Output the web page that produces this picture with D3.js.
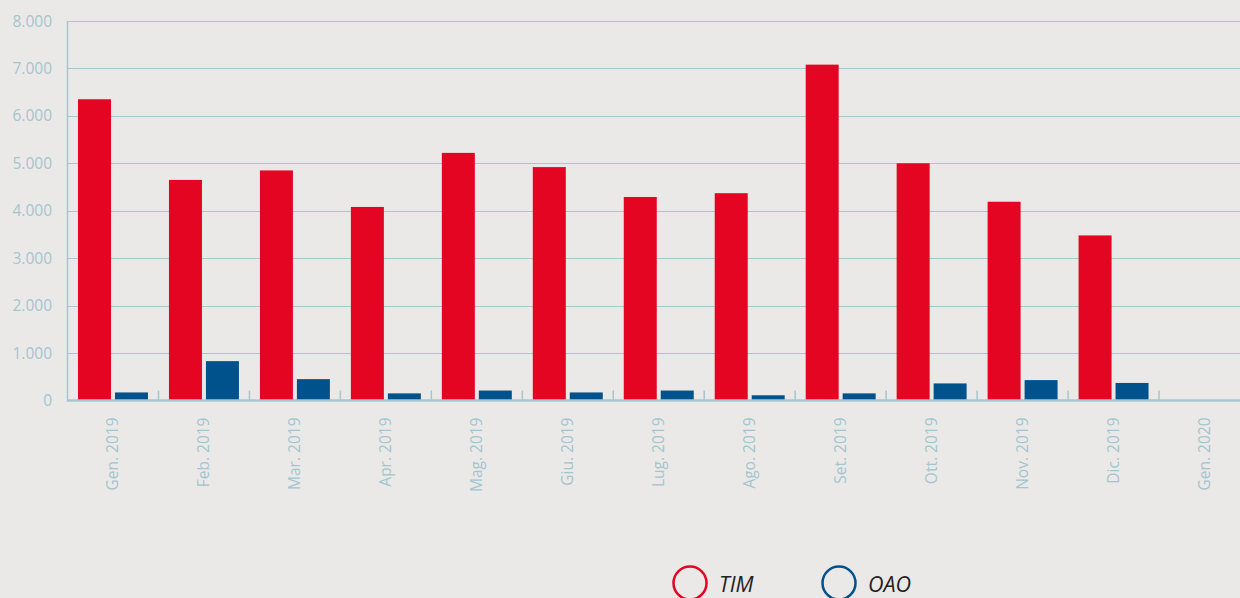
<!DOCTYPE html>
<html><head><meta charset="utf-8">
<script src="https://cdn.jsdelivr.net/npm/d3@7"></script>
<style>
html,body{margin:0;padding:0;background:#ebe9e7;}
svg{display:block;}
</style></head>
<body>
<svg id="c" width="1240" height="598"></svg>
<script>
const categories = ["Gen. 2019","Feb. 2019","Mar. 2019","Apr. 2019","Mag. 2019","Giu. 2019","Lug. 2019","Ago. 2019","Set. 2019","Ott. 2019","Nov. 2019","Dic. 2019","Gen. 2020"];
const timValues = [6350,4650,4850,4080,5220,4920,4290,4370,7080,5000,4190,3480,0];
const oaoValues = [170,830,450,150,210,170,210,110,150,360,430,370,0];
const yTicks = [0,1000,2000,3000,4000,5000,6000,7000,8000];
const seriesNames = ["TIM","OAO"];
const seriesColors = ["#e30521","#00528c"];

(function(){
const svg = d3.select("#c");
const mLeft = 67.5, mRight = 1250, mTop = 21, mBottom = 400.5;
const x = d3.scaleBand().domain(categories).range([mLeft, mRight]).paddingInner(0).paddingOuter(0);
const y = d3.scaleLinear().domain([0, 8000]).range([mBottom, mTop]);
const gridColor = "#a6c6d0";
const labelColor = "#a3c5cf";
const fmt = v => d3.format(",")(v).replace(/,/g, ".");

svg.append("g").selectAll("line").data(yTicks.filter(d => d > 0)).join("line")
  .attr("x1", mLeft).attr("x2", 1240)
  .attr("y1", d => Math.round(y(d)) + 0.5).attr("y2", d => Math.round(y(d)) + 0.5)
  .attr("stroke", gridColor).attr("stroke-width", 1.2);

svg.append("g").selectAll("text").data(yTicks).join("text")
  .attr("x", 52).attr("y", d => y(d)).attr("dy", "0.36em")
  .attr("text-anchor", "end")
  .attr("font-family", "'Open Sans', sans-serif").attr("font-size", 15.5)
  .attr("fill", labelColor).text(fmt);

const inner = d3.scaleBand().domain(seriesNames).range([0, x.bandwidth()]).paddingInner(0.108).paddingOuter(0.284);
const gBars = svg.append("g");
categories.forEach((c, i) => {
  const vals = [timValues[i], oaoValues[i]];
  vals.forEach((v, j) => {
    gBars.append("rect")
      .attr("x", x(c) + inner(seriesNames[j]))
      .attr("width", inner.bandwidth())
      .attr("y", y(v))
      .attr("height", y(0) - y(v))
      .attr("fill", seriesColors[j]);
  });
});

svg.append("line").attr("x1", mLeft).attr("x2", mLeft).attr("y1", mTop).attr("y2", mBottom + 1)
  .attr("stroke", gridColor).attr("stroke-width", 1.5);
svg.append("line").attr("x1", mLeft).attr("x2", 1240).attr("y1", mBottom).attr("y2", mBottom)
  .attr("stroke", gridColor).attr("stroke-width", 2.5);

svg.append("g").selectAll("line").data(categories.slice(1)).join("line")
  .attr("x1", d => x(d)).attr("x2", d => x(d))
  .attr("y1", mBottom - 10).attr("y2", mBottom)
  .attr("stroke", gridColor).attr("stroke-width", 1.5);

svg.append("g").selectAll("text").data(categories).join("text")
  .attr("transform", d => `translate(${x(d) + x.bandwidth()/2 - 0.5},${mBottom + 17}) rotate(-90)`)
  .attr("text-anchor", "end").attr("dy", "0.36em")
  .attr("font-family", "'Open Sans', sans-serif").attr("font-size", 15.5)
  .attr("fill", labelColor).text(d => d);

const legX = [690, 839];
seriesNames.forEach((s, i) => {
  svg.append("circle").attr("cx", legX[i]).attr("cy", 583).attr("r", 16.5)
    .attr("fill", "none").attr("stroke", seriesColors[i]).attr("stroke-width", 2.5);
  svg.append("text").attr("x", legX[i] + 29).attr("y", 584).attr("dy", "0.35em")
    .attr("font-family", "'Open Sans', sans-serif").attr("font-style", "italic").attr("font-size", 21.5)
    .attr("fill", "#222").text(s);
});
})();
</script>
</body></html>
